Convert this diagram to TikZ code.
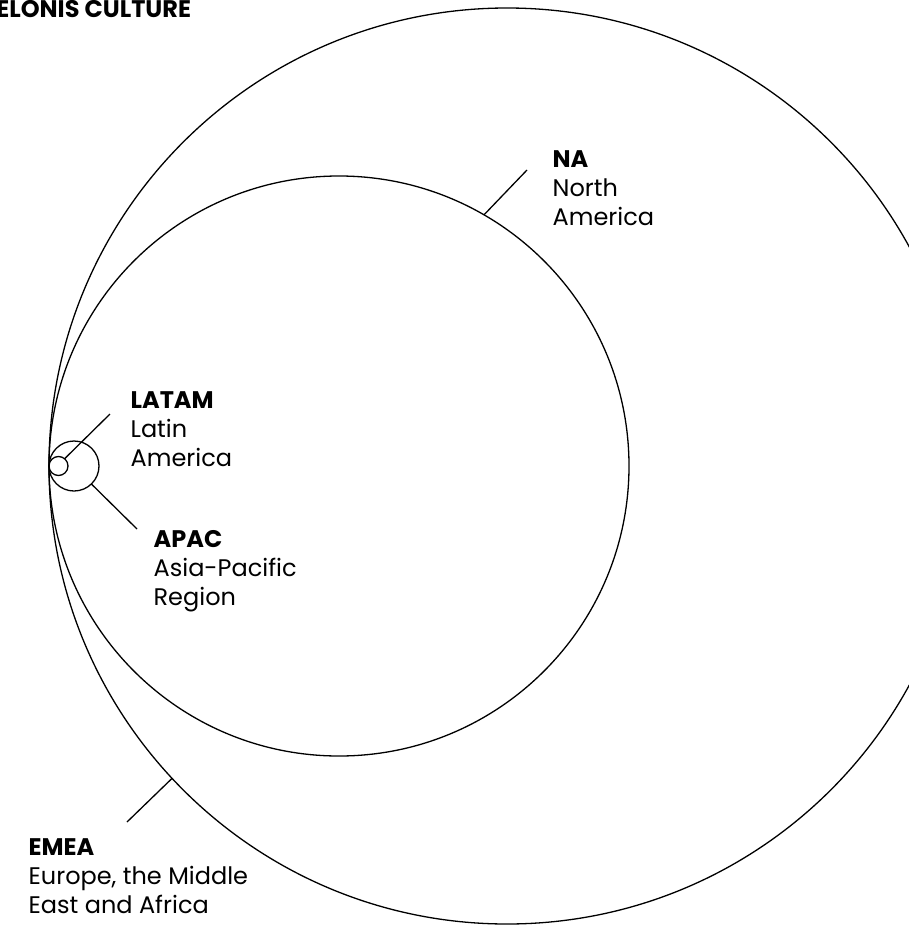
\documentclass[tikz,border=0pt]{standalone}
\usepackage{fontspec}
\setmainfont{Poppins}
\usepackage{tikz}

\begin{document}
\begin{tikzpicture}[x=1pt, y=-1pt, line width=1.3pt,
    region/.style={draw, circle, inner sep=0pt, outer sep=0pt},
    every node/.style={font=\fontsize{24}{29}\selectfont}]
    \useasboundingbox (0,0) rectangle (909,926);
    \clip (0,0) rectangle (909,926);
    \node[anchor=base east, font=\fontsize{24}{29}\selectfont\bfseries] (title) at (195,17) {CELONIS CULTURE};
    \node[region, minimum size=916pt] (emea) at (507,466) {};
    \node[region, minimum size=580pt] (na) at (339,466) {};
    \node[region, minimum size=50pt] (apac) at (74,466) {};
    \node[region, minimum size=19pt] (latam) at (58.5,466) {};
    \coordinate (na-end) at (527,170);
    \coordinate (emea-end) at (127,822);
    \coordinate (latam-end) at (110,414);
    \coordinate (apac-end) at (137,529);
    \draw (na.60.5) -- (na-end);
    \draw (emea.223) -- (emea-end);
    \draw (latam.50) -- (latam-end);
    \draw (apac.-46) -- (apac-end);
    \node[anchor=north west, align=left, inner sep=0pt] (na-text) at (552,150) {\textbf{NA}\\North\\America};
    \node[anchor=north west, align=left, inner sep=0pt] (latam-text) at (130,391) {\textbf{LATAM}\\Latin\\America};
    \node[anchor=north west, align=left, inner sep=0pt] (apac-text) at (153,530) {\textbf{APAC}\\Asia-Pacific\\Region};
    \node[anchor=north west, align=left, inner sep=0pt] (emea-text) at (28,838) {\textbf{EMEA}\\Europe, the Middle\\East and Africa};
  \end{tikzpicture}
\end{document}
